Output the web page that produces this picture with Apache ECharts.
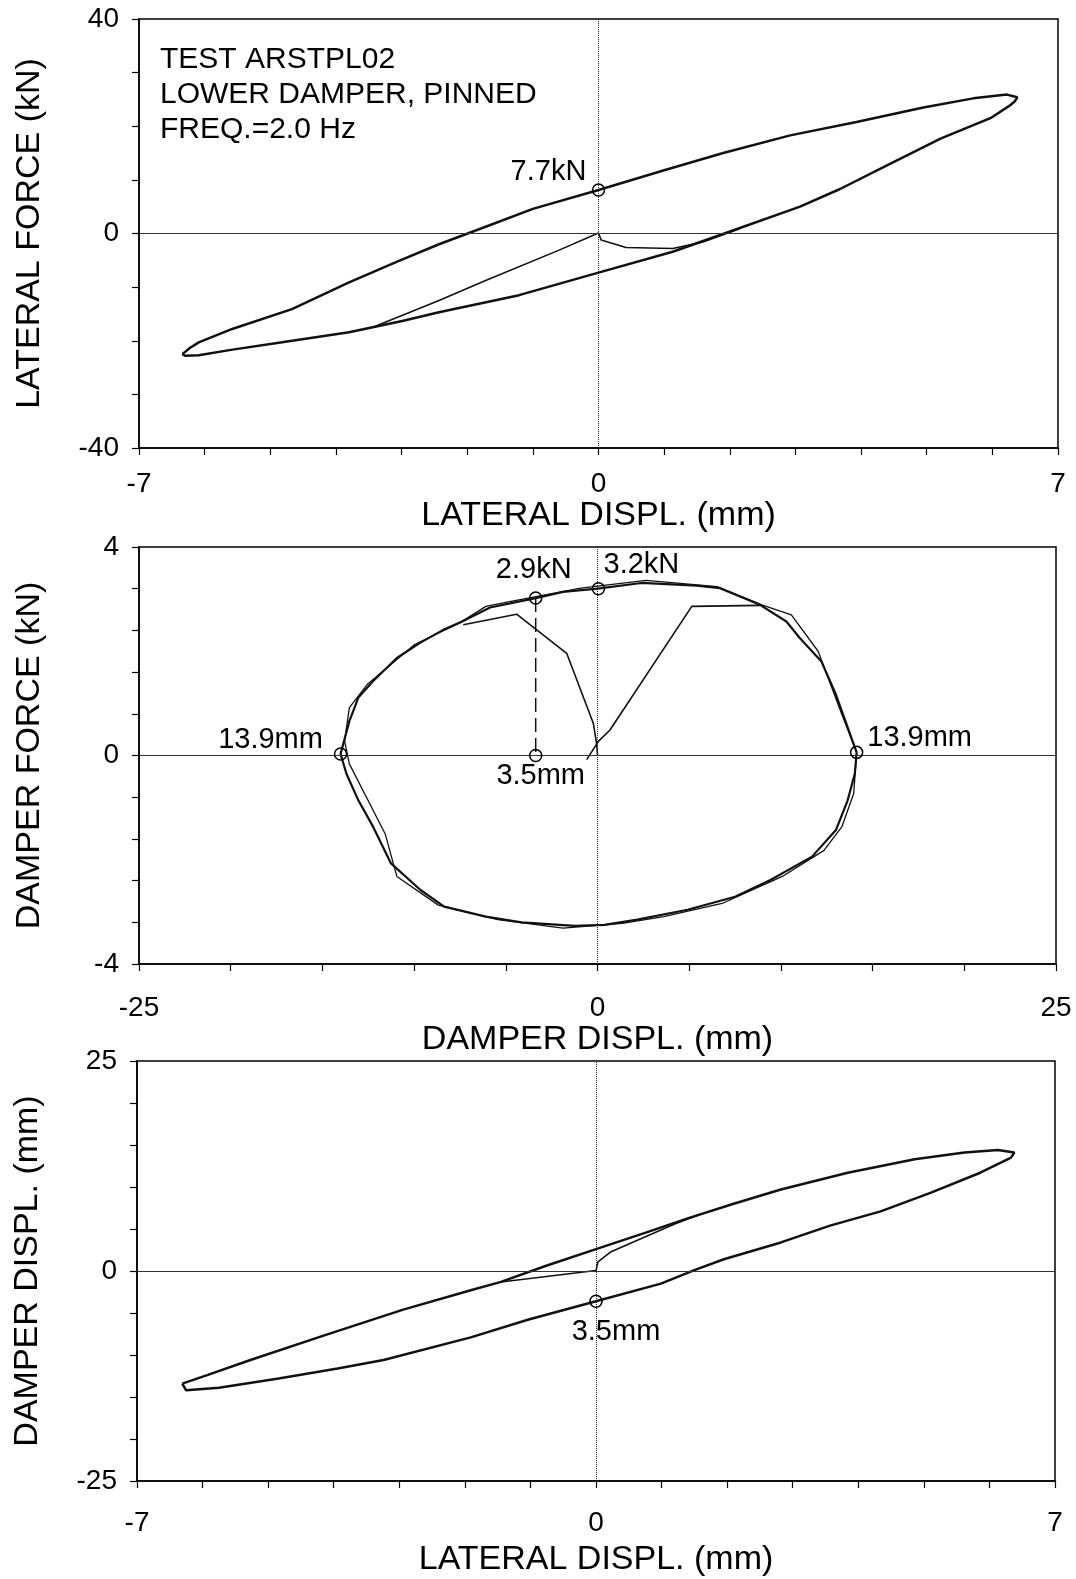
<!DOCTYPE html>
<html>
<head>
<meta charset="utf-8">
<script src="https://cdn.jsdelivr.net/npm/echarts@6/dist/echarts.min.js"></script>
<style>
  html, body { margin: 0; padding: 0; background: #fff; }
  #chart { width: 1076px; height: 1579px; }
</style>
</head>
<body>
<div id="chart"></div>
<script>
// --- panel 1: lateral displ. (mm) vs lateral force (kN)
const lateralLabels = [-7, 0, 7];
const forceLabels = [-40, 0, 40];
const forceUp = [[-6.34,-22.5],[-6.22,-21.3],[-6.09,-20.3],[-5.58,-17.8],[-4.67,-14.1],[-3.80,-9.1],[-3.04,-5.1],[-2.43,-2.0],[-1.82,0.8],[-1.00,4.6],[0,8.1],[1.00,11.8],[1.90,15.0],[2.92,18.3],[3.93,20.8],[4.95,23.5],[5.71,25.2],[6.22,25.9],[6.38,25.4]];
const forceDown = [[6.34,24.6],[6.27,23.9],[5.97,21.5],[5.21,17.7],[4.44,13.0],[3.68,8.3],[3.07,5.0],[2.10,0.8],[1.13,-3.4],[0,-7.3],[-1.21,-11.5],[-2.43,-14.7],[-2.99,-16.3],[-3.80,-18.4],[-4.82,-20.3],[-5.60,-21.7],[-6.09,-22.7],[-6.30,-22.8],[-6.34,-22.5]];
const forceStart = [[-3.40,-17.3],[-2.43,-12.5],[-1.71,-8.7],[-0.60,-3.1],[0,0.1],[0.04,-1.2],[0.42,-2.6],[1.13,-2.8],[1.59,-1.6],[2.15,0.9]];
const forceMarks = [[0, 8.1]];
const forceMarkText = ['7.7kN'];

// --- panel 2: damper displ. (mm) vs damper force (kN)
const damperDLabels = [-25, 0, 25];
const damperFLabels = [-4, 0, 4];
const damperLoop = [[14.13,0.06],[13.64,0.54],[13.0,1.17],[12.2,1.81],[11.04,2.25],[10.3,2.57],[8.86,2.89],[6.68,3.21],[5.41,3.26],[2.4,3.31],[0,3.2],[-1.88,3.14],[-3.37,3.02],[-5.86,2.84],[-7.38,2.57],[-8.41,2.41],[-9.68,2.16],[-10.94,1.87],[-12.23,1.43],[-13.04,1.11],[-13.53,0.66],[-14.01,0.03],[-13.69,-0.35],[-13.04,-0.86],[-12.23,-1.37],[-11.26,-2.07],[-9.65,-2.58],[-8.36,-2.90],[-6.09,-3.09],[-4.14,-3.20],[-1.23,-3.27],[0.38,-3.25],[2.17,-3.15],[4.91,-2.96],[7.5,-2.71],[9.43,-2.39],[11.7,-1.94],[13.0,-1.43],[13.64,-0.86],[14.03,-0.35],[14.13,0.06]];
const damperLoop2 = [[-6.09,2.86],[-7.54,2.54],[-9.97,2.13],[-12.56,1.36],[-13.53,0.92],[-13.79,0.28],[-13.53,-0.16],[-11.58,-1.50],[-10.94,-2.32],[-8.68,-2.87],[-5.44,-3.15],[-1.88,-3.31],[1.35,-3.22],[3.61,-3.09],[6.85,-2.83],[10.08,-2.32],[12.35,-1.82],[13.32,-1.37],[13.97,-0.73],[14.13,0.06],[13.32,0.79],[12.03,2.0],[10.57,2.70],[8.96,2.89],[6.53,3.24],[2.64,3.36],[-0.91,3.21],[-4.79,2.95],[-6.09,2.86]];
const damperStartA = [[-7.32,2.51],[-4.41,2.71],[-1.68,1.96],[-0.23,0.62],[-0.04,0.21],[0,0]];
const damperStartB = [[-0.59,-0.08],[0.05,0.27],[0.68,0.49],[5.14,2.86],[8.86,2.88]];
const damperDrop = [[-3.37,3.02],[-3.37,0]];
const damperMarks = [[-3.37,3.02],[0.05,3.2],[-14.01,0.03],[14.13,0.06],[-3.37,0]];
const damperMarkText = ['2.9kN','3.2kN','13.9mm','13.9mm','3.5mm'];

// --- panel 3: lateral displ. (mm) vs damper displ. (mm)
const dispLabels = [-25, 0, 25];
const dispUp = [[-6.31,-13.4],[-5.93,-12.4],[-5.27,-10.6],[-4.12,-7.6],[-2.94,-4.6],[-1.91,-2.3],[-1.45,-1.3],[-0.77,0.6],[0,2.6],[0.77,4.6],[1.41,6.3],[2.10,8.0],[2.82,9.7],[3.84,11.7],[4.86,13.3],[5.62,14.1],[6.13,14.4],[6.38,14.1]];
const dispDown = [[6.33,13.5],[5.86,11.7],[5.10,9.3],[4.34,7.1],[3.57,5.4],[2.82,3.4],[1.95,1.4],[1.50,0.1],[0.99,-1.5],[0,-3.6],[-1.04,-5.8],[-1.91,-7.9],[-3.24,-10.6],[-3.94,-11.6],[-4.84,-12.8],[-5.75,-13.9],[-6.25,-14.2],[-6.31,-13.4]];
const dispStart = [[-1.45,-1.3],[0,0.05],[0.03,1.1],[0.23,2.3],[0.64,3.7],[1.2,5.6],[1.6,6.8]];
const dispMarks = [[0,-3.6]];
const dispMarkText = ['3.5mm'];

const FONT = 'Liberation Sans, Arial, sans-serif';

const chart = echarts.init(document.getElementById('chart'), null, { renderer: 'canvas' });

const onlyLabels = list => v => {
  const hit = list.find(t => Math.abs(t - v) < 1e-6);
  return hit === undefined ? '' : String(hit);
};

function makeAxis(idx, min, max, interval, labels, name, nameGap, margin) {
  return {
    gridIndex: idx, type: 'value', min, max, interval,
    name, nameLocation: 'middle', nameGap,
    nameTextStyle: { fontSize: 34, color: '#000', fontFamily: FONT },
    axisLine: { onZero: false, lineStyle: { color: '#000', width: 1.5 } },
    axisTick: { length: 7, lineStyle: { color: '#000', width: 1.2 } },
    splitLine: { show: false },
    axisLabel: { formatter: onlyLabels(labels), fontSize: 28, color: '#000', margin, fontFamily: FONT }
  };
}

const zeroLines = {
  silent: true, symbol: 'none', label: { show: false },
  lineStyle: { color: '#222', width: 1, type: 'dotted' },
  data: [{ xAxis: 0 }, { yAxis: 0, lineStyle: { type: 'solid', width: 1, color: '#333' } }]
};

function curve(idx, data, width, extra) {
  return Object.assign({
    type: 'line', xAxisIndex: idx, yAxisIndex: idx, data,
    showSymbol: false, symbol: 'none', smooth: false, silent: true,
    lineStyle: { color: '#111', width }, z: 3
  }, extra || {});
}

function marks(idx, pts, texts, offsets) {
  return {
    type: 'scatter', xAxisIndex: idx, yAxisIndex: idx, symbol: 'circle', symbolSize: 12,
    itemStyle: { color: 'rgba(0,0,0,0)', borderColor: '#000', borderWidth: 1.5, opacity: 1 }, z: 5, silent: true,
    data: pts.map((p, i) => ({
      value: p,
      label: {
        show: true, position: 'inside', offset: offsets[i], formatter: texts[i],
        color: '#000', opacity: 1, fontSize: 29, fontFamily: FONT, textBorderWidth: 0
      }
    }))
  };
}

chart.setOption({
  backgroundColor: '#fff',
  animation: false,
  grid: [
    { left: 139, top: 19, width: 919, height: 429, show: true, borderColor: '#000', borderWidth: 1.5 },
    { left: 139, top: 547, width: 917, height: 417, show: true, borderColor: '#000', borderWidth: 1.5 },
    { left: 137, top: 1061, width: 918, height: 420, show: true, borderColor: '#000', borderWidth: 1.5 }
  ],
  xAxis: [
    makeAxis(0, -7, 7, 1, lateralLabels, 'LATERAL DISPL. (mm)', 51, 22),
    makeAxis(1, -25, 25, 5, damperDLabels, 'DAMPER DISPL. (mm)', 56, 30),
    makeAxis(2, -7, 7, 1, lateralLabels, 'LATERAL DISPL. (mm)', 62, 28)
  ],
  yAxis: [
    makeAxis(0, -40, 40, 10, forceLabels, 'LATERAL FORCE (kN)', 92, 20),
    makeAxis(1, -4, 4, 0.8, damperFLabels, 'DAMPER FORCE (kN)', 92, 20),
    makeAxis(2, -25, 25, 5, dispLabels, 'DAMPER DISPL. (mm)', 92, 20)
  ],
  graphic: [{
    type: 'text', left: 160, top: 42, silent: true,
    style: {
      text: 'TEST ARSTPL02\nLOWER DAMPER, PINNED\nFREQ.=2.0 Hz',
      fontSize: 30, fontFamily: FONT, lineHeight: 35, fill: '#000'
    }
  }],
  series: [
    curve(0, forceUp.concat(forceDown), 2.5, { markLine: zeroLines }),
    curve(0, forceStart, 1.6),
    marks(0, forceMarks, forceMarkText, [[-50, -18]]),

    curve(1, damperLoop, 2.2, { markLine: zeroLines }),
    curve(1, damperLoop2, 1.3),
    curve(1, damperStartA, 1.6),
    curve(1, damperStartB, 1.6),
    curve(1, damperDrop, 1.5, { lineStyle: { color: '#111', width: 1.5, type: [14, 6] } }),
    marks(1, damperMarks, damperMarkText, [[-2, -28], [43, -24], [-70, -14], [63, -14], [5, 20]]),

    curve(2, dispUp.concat(dispDown), 2.5, { markLine: zeroLines }),
    curve(2, dispStart, 1.6),
    marks(2, dispMarks, dispMarkText, [[20, 31]])
  ]
});
</script>
</body>
</html>
